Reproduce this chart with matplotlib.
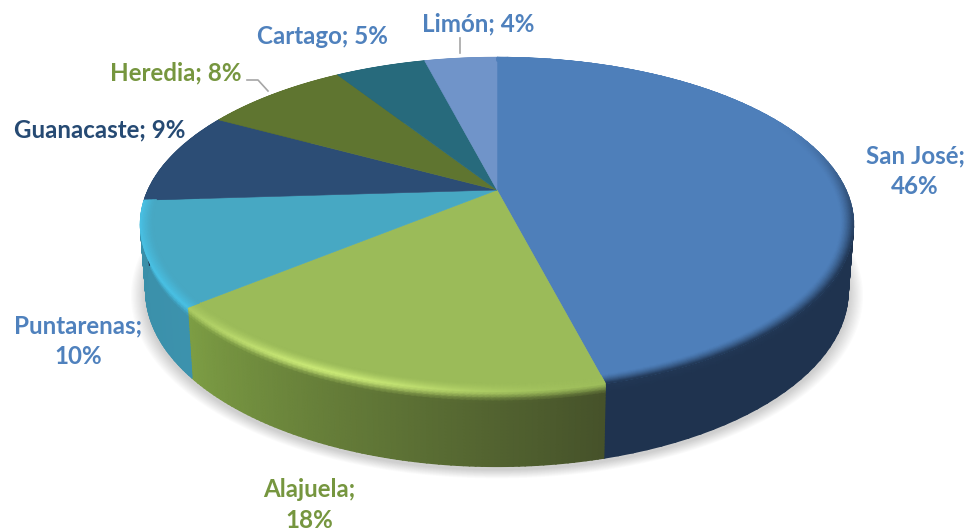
import numpy as np
import matplotlib
matplotlib.use('Agg')
import matplotlib.pyplot as plt
from matplotlib.colors import to_rgb
from matplotlib.patches import Polygon

plt.rcParams['font.family'] = ['Lato', 'DejaVu Sans']

# data
names = ['San José', 'Alajuela', 'Puntarenas', 'Guanacaste', 'Heredia', 'Cartago', 'Limón']
values = [46, 18, 10, 9, 8, 5, 4]

# styles
top_colors = ['#4e7fba', '#9bbb59', '#47a8c3', '#2c4d75', '#5f7530', '#276a7c', '#7094c9']
rim_colors = ['#1f334f', '#c9e876', '#49c2e6', '#2c4d75', '#5f7530', '#276a7c', '#7094c9']
wall_start = ['#1f334f', '#46522a', '#3c92ad', '#1f3754', '#465722', '#1c4f5c', '#54709a']
wall_end = ['#1f334f', '#7d9e44', '#3a8fa8', '#1f3754', '#465722', '#1c4f5c', '#54709a']
label_colors = ['#4f81bd', '#76963f', '#4f81bd', '#264a73', '#76963f', '#4f81bd', '#4f81bd']
label_xy = [(915, 171), (309, 505), (78, 341), (100, 130), (176, 73), (322, 36), (478, 24)]
label_breaks = [True, True, True, False, False, False, False]

# pie geometry in pixels (perspective view of a flat cylinder)
CX = 497
TOP_CY = 190
BOTTOM_CY = 255
RX = 349
TOP_RY = 160
BOTTOM_RY = 168
BOTTOM_XSCALE = 0.985
PERSP = 0.206


def project(theta_deg, s=1.0, level='top'):
    # theta runs clockwise from 12 o'clock
    th = np.radians(theta_deg)
    u = s * np.sin(th)
    v = s * np.cos(th)
    w = 1 + PERSP * v
    if level == 'top':
        return CX + RX * u / w, TOP_CY - TOP_RY * v / w
    return CX + BOTTOM_XSCALE * RX * u / w, BOTTOM_CY - BOTTOM_RY * v / w


def smooth(a, b, x):
    t = np.clip((x - a) / (b - a), 0, 1)
    return t * t * (3 - 2 * t)


def rim_strength(i, th):
    if names[i] == 'San José':
        return smooth(60, 115, th) * 0.95
    if names[i] == 'Alajuela':
        return np.exp(-((th - 203) / 22) ** 2) * 0.9 + 0.15 * smooth(170, 200, th)
    if names[i] == 'Puntarenas':
        return 0.95 * np.ones_like(th)
    return np.zeros_like(th)


def draw_wall(ax, i, a, b):
    th = np.linspace(a, b, 80)
    t = np.linspace(0, 1, 24)
    tt, thth = np.meshgrid(t, th, indexing='ij')
    xt, yt = project(thth, 1.0, 'top')
    xb, yb = project(thth, 1.0, 'bottom')
    x = xt + (xb - xt) * tt
    y = yt + (yb - yt) * tt
    f = ((thth - a) / (b - a))[..., None]
    wall = np.array(to_rgb(wall_start[i])) * (1 - f) + np.array(to_rgb(wall_end[i])) * f
    edge = np.array(to_rgb(top_colors[i])) * (1 - rim_strength(i, thth))[..., None] \
        + np.array(to_rgb(rim_colors[i])) * rim_strength(i, thth)[..., None]
    blend = smooth(0.0, 0.14, tt)[..., None]
    ax.pcolormesh(x, y, edge * (1 - blend) + wall * blend, shading='gouraud', zorder=2)


def draw_top(ax, i, a, b):
    th = np.linspace(a, b, 100)
    x, y = project(th)
    pts = np.column_stack([np.r_[CX, x], np.r_[TOP_CY, y]])
    ax.add_patch(Polygon(pts, closed=True, facecolor=top_colors[i], edgecolor=top_colors[i],
                         linewidth=0.4, zorder=3))


def draw_rim(ax, i, a, b):
    th = np.linspace(a, b, 80)
    s = np.linspace(0.965, 1.0, 10)
    ss, thth = np.meshgrid(s, th, indexing='ij')
    x, y = project(thth, ss)
    amount = (rim_strength(i, thth) * ((ss - s[0]) / (s[-1] - s[0])) ** 1.4)[..., None]
    col = np.array(to_rgb(top_colors[i])) * (1 - amount) + np.array(to_rgb(rim_colors[i])) * amount
    ax.pcolormesh(x, y, col, shading='gouraud', zorder=4)


fig = plt.figure(figsize=(9.68, 5.31), dpi=100)
ax = fig.add_axes([0, 0, 1, 1])
ax.set_xlim(0, 968)
ax.set_ylim(531, 0)
ax.axis('off')

# soft shadow under the pie
outline_x, outline_y = project(np.linspace(0, 360, 240), 1.0, 'bottom')
for k in range(12):
    grow = 1 + (12 - k) * 0.0035
    sx = CX + (outline_x - CX) * grow
    sy = BOTTOM_CY + 3 + (outline_y - BOTTOM_CY) * grow
    ax.add_patch(Polygon(np.column_stack([sx, sy]), closed=True, facecolor='black',
                         edgecolor='none', alpha=0.016, zorder=1))

# slices, starting at 12 o'clock and going clockwise
total = sum(values)
edges = np.cumsum([0] + values) / total * 360
for i in range(len(values)):
    draw_wall(ax, i, edges[i], edges[i + 1])
for i in range(len(values)):
    draw_top(ax, i, edges[i], edges[i + 1])
for i in range(len(values)):
    if names[i] in ('San José', 'Alajuela', 'Puntarenas'):
        draw_rim(ax, i, edges[i], edges[i + 1])

# leader lines
ax.plot([460, 460], [38, 53], color='#a6a6a6', lw=1.2, zorder=5)
ax.plot([247, 258, 268], [80, 80, 91], color='#a6a6a6', lw=1.2, zorder=5)

for i in range(len(values)):
    sep = '\n' if label_breaks[i] else ' '
    ax.text(label_xy[i][0], label_xy[i][1], f'{names[i]};{sep}{values[i]}%',
            color=label_colors[i], fontsize=17.4, fontweight='bold', ha='center', va='center',
            linespacing=1.38, zorder=6)

fig.savefig('out.png', dpi=100)
